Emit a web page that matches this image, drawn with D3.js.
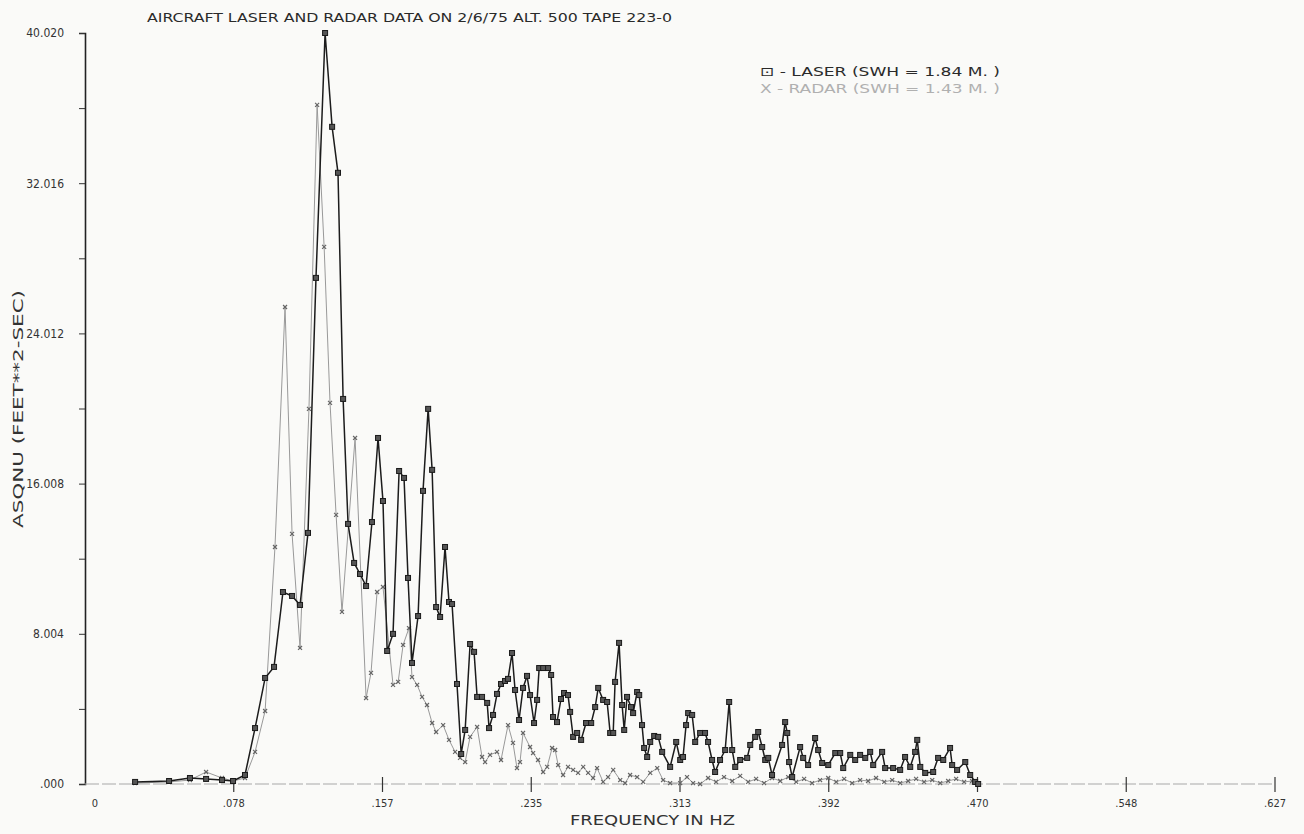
<html>
<head>
<title>Aircraft laser and radar spectra</title>
<script type="text/javascript" src="https://cdn.jsdelivr.net/npm/d3@7"></script>
<style>
  body { margin: 0; background: #fafaf8; }
  text { font-family: "DejaVu Sans Condensed", "DejaVu Sans", sans-serif; }
</style>
</head>
<body>
<script type="text/javascript">
  var width = 1304;
  var height = 834;

  // laser spectrum
  var laserFreq = [0.0264,0.0443,0.0553,0.0638,0.0722,0.0780,0.0843,0.0896,0.0949,0.0996,
    0.1043,0.1091,0.1133,0.1175,0.1217,0.1265,0.1302,0.1333,0.1360,0.1386,
    0.1418,0.1449,0.1481,0.1512,0.1544,0.1570,0.1592,0.1623,0.1655,0.1681,
    0.1702,0.1723,0.1755,0.1781,0.1808,0.1829,0.1850,0.1871,0.1897,0.1918,
    0.1934,0.1960,0.1982,0.2003,0.2029,0.2050,0.2066,0.2092,0.2119,0.2129,
    0.2150,0.2171,0.2192,0.2213,0.2229,0.2250,0.2266,0.2287,0.2308,0.2329,
    0.2345,0.2366,0.2382,0.2393,0.2414,0.2440,0.2456,0.2466,0.2487,0.2508,
    0.2524,0.2545,0.2556,0.2572,0.2593,0.2614,0.2640,0.2667,0.2688,0.2704,
    0.2730,0.2751,0.2767,0.2783,0.2793,0.2814,0.2830,0.2841,0.2856,0.2877,
    0.2888,0.2909,0.2920,0.2935,0.2946,0.2962,0.2978,0.2999,0.3020,0.3041,
    0.3083,0.3115,0.3136,0.3151,0.3167,0.3178,0.3199,0.3215,0.3241,0.3267,
    0.3283,0.3304,0.3320,0.3346,0.3373,0.3394,0.3410,0.3426,0.3452,0.3489,
    0.3505,0.3531,0.3547,0.3568,0.3584,0.3600,0.3620,0.3673,0.3689,0.3700,
    0.3710,0.3726,0.3768,0.3784,0.3810,0.3847,0.3863,0.3884,0.3916,0.3953,
    0.3979,0.3995,0.4032,0.4058,0.4084,0.4111,0.4137,0.4153,0.4200,0.4216,
    0.4258,0.4295,0.4321,0.4348,0.4374,0.4385,0.4401,0.4427,0.4469,0.4495,
    0.4522,0.4558,0.4569,0.4595,0.4638,0.4664,0.4690,0.4706];
  var laserVal = [0.11,0.16,0.32,0.27,0.21,0.16,0.48,2.98,5.65,6.24,
    10.23,10.02,9.54,13.38,26.97,40.02,35.02,32.57,20.52,13.86,
    11.78,11.19,10.55,13.96,18.44,15.08,7.09,8.00,16.68,16.31,
    10.98,6.45,8.95,15.62,19.99,16.74,9.43,8.90,12.63,9.70,
    9.59,5.33,1.60,2.88,7.46,7.04,4.64,4.64,4.32,2.98,
    3.68,4.80,5.33,5.49,5.60,6.98,5.01,3.41,5.12,5.76,
    4.74,3.25,4.48,6.18,6.18,6.18,5.81,3.57,3.30,4.53,
    4.85,4.74,3.84,2.51,2.72,2.35,3.25,3.25,4.10,5.12,
    4.48,4.37,2.72,2.72,5.44,7.52,4.21,2.88,4.64,4.10,
    3.78,4.90,4.74,3.14,1.92,1.44,2.24,2.56,2.51,1.71,
    0.91,2.24,1.28,1.44,3.14,3.78,3.68,2.24,2.72,2.72,
    2.24,1.28,0.64,1.28,1.81,4.37,1.81,0.91,1.28,1.39,
    2.08,2.51,2.77,1.97,1.28,1.39,0.48,2.08,3.30,2.72,
    1.17,0.37,1.97,1.39,1.01,2.45,1.81,1.12,1.01,1.65,
    1.65,0.85,1.55,1.28,1.55,1.39,1.71,1.01,1.71,0.85,
    0.85,0.75,1.44,0.91,1.71,2.35,0.91,0.59,0.64,1.39,
    1.28,1.92,1.01,0.75,1.17,0.48,0.11,0.00];

  // radar spectrum
  var radarFreq = [0.0264,0.0443,0.0553,0.0638,0.0722,0.0780,0.0843,0.0896,0.0949,0.1001,
    0.1054,0.1091,0.1133,0.1180,0.1223,0.1260,0.1291,0.1323,0.1354,0.1423,
    0.1481,0.1507,0.1539,0.1570,0.1623,0.1650,0.1676,0.1707,0.1723,0.1750,
    0.1776,0.1802,0.1829,0.1850,0.1887,0.1918,0.1950,0.1976,0.2003,0.2029,
    0.2066,0.2092,0.2108,0.2134,0.2171,0.2192,0.2229,0.2255,0.2276,0.2292,
    0.2308,0.2345,0.2361,0.2387,0.2414,0.2435,0.2461,0.2477,0.2493,0.2519,
    0.2545,0.2572,0.2598,0.2625,0.2651,0.2677,0.2698,0.2730,0.2756,0.2783,
    0.2820,0.2846,0.2872,0.2909,0.2941,0.2978,0.3015,0.3046,0.3083,0.3136,
    0.3172,0.3204,0.3241,0.3283,0.3325,0.3367,0.3410,0.3452,0.3494,0.3536,
    0.3578,0.3620,0.3663,0.3705,0.3747,0.3789,0.3831,0.3873,0.3916,0.3958,
    0.4000,0.4042,0.4084,0.4126,0.4168,0.4211,0.4253,0.4295,0.4337,0.4379,
    0.4421,0.4464,0.4506,0.4548,0.4590,0.4632,0.4674,0.4706];
  var radarVal = [0.05,0.11,0.21,0.64,0.32,0.16,0.32,1.71,3.89,12.63,
    25.42,13.33,7.25,19.99,36.19,28.62,20.31,14.34,9.17,18.44,
    4.58,5.92,10.23,10.50,5.28,5.44,7.41,8.31,5.70,5.28,
    4.64,4.21,3.25,2.77,3.14,2.35,1.71,1.39,1.17,2.51,
    3.04,1.44,1.17,1.55,1.71,1.28,3.14,2.19,0.85,1.17,
    2.72,1.97,1.65,1.28,0.64,0.91,1.92,1.81,1.01,0.48,
    0.91,0.75,0.59,0.91,0.59,0.32,0.85,0.11,0.37,0.75,
    0.21,0.05,0.48,0.37,0.11,0.59,0.85,0.21,0.05,0.05,
    0.37,0.05,0.00,0.32,0.11,0.37,0.16,0.43,0.11,0.27,
    0.05,0.32,0.16,0.37,0.11,0.27,0.05,0.21,0.32,0.11,
    0.27,0.05,0.21,0.16,0.32,0.11,0.21,0.05,0.16,0.27,
    0.11,0.21,0.05,0.16,0.27,0.11,0.16,0.00];

  var xTickLabels = ["0",".078",".157",".235",".313",".392",".470",".548",".627"];
  var yTickLabels = [".000","8.004","16.008","24.012","32.016","40.020"];
  var xMax = 0.627;
  var yMax = 40.02;

  var xScale = d3.scaleLinear().domain([0,xMax]).range([85,1275]);
  var yScale = d3.scaleLinear().domain([0,yMax]).range([784,33]);

  var svg = d3.select("body")
              .append("svg")
              .attr("width",width)
              .attr("height",height)
              .style("background-color","#fafaf8");

  // title
  svg.append("text")
     .attr("x",147).attr("y",22)
     .attr("textLength",525).attr("lengthAdjust","spacingAndGlyphs")
     .style("font-size","13px").style("fill","#2a2a2a")
     .text("AIRCRAFT LASER AND RADAR DATA ON 2/6/75  ALT. 500  TAPE 223-0");

  // legend
  svg.append("text")
     .attr("x",760).attr("y",76)
     .attr("textLength",240).attr("lengthAdjust","spacingAndGlyphs")
     .style("font-size","12px").style("fill","#2a2a2a")
     .text("\u22A1 - LASER (SWH =  1.84 M. )");
  svg.append("text")
     .attr("x",760).attr("y",93)
     .attr("textLength",240).attr("lengthAdjust","spacingAndGlyphs")
     .style("font-size","12px").style("fill","#b0b0b0")
     .text("X - RADAR (SWH =  1.43 M. )");

  // y axis
  var yMinor = d3.range(0,11).map(function(i){ return i*yMax/10; });
  var yAxis = d3.axisLeft(yScale)
                .tickValues(yMinor)
                .tickSize(6)
                .tickFormat(function(d,i){ return i%2==0 ? yTickLabels[i/2] : ""; });
  var gy = svg.append("g")
              .attr("transform","translate(85,0)")
              .attr("font-size",12)
              .call(yAxis);
  gy.attr("font-size",12).attr("font-family","\"DejaVu Sans Condensed\", sans-serif");
  gy.select(".domain").attr("stroke","#222").attr("stroke-width",1.6);
  gy.selectAll(".tick line").attr("stroke","#333");
  gy.selectAll(".tick text")
    .attr("x",-21)
    .attr("fill","#333");

  // x axis
  var xVals = d3.range(0,9).map(function(i){ return i*xMax/8; });
  svg.append("line")
     .attr("x1",xScale(0)).attr("x2",xScale(xMax))
     .attr("y1",yScale(0)).attr("y2",yScale(0))
     .attr("stroke","#a8a8a8").attr("stroke-width",1)
     .attr("stroke-dasharray","14,3");
  var gx = svg.append("g");
  gx.selectAll("line")
    .data(xVals.slice(1))
    .enter().append("line")
    .attr("x1",function(d){ return xScale(d); })
    .attr("x2",function(d){ return xScale(d); })
    .attr("y1",function(d,i){ return i==0 ? yScale(0) : yScale(0)-7; })
    .attr("y2",yScale(0)+8)
    .attr("stroke","#333").attr("stroke-width",1.2);
  gx.selectAll("text")
    .data(xVals)
    .enter().append("text")
    .attr("x",function(d,i){ return xScale(d) + (i==0 ? 10 : 0); })
    .attr("y",807)
    .attr("text-anchor","middle")
    .style("font-size","11px").style("fill","#333")
    .text(function(d,i){ return xTickLabels[i]; });

  // axis titles
  svg.append("text")
     .attr("x",570).attr("y",825)
     .attr("textLength",165).attr("lengthAdjust","spacingAndGlyphs")
     .style("font-size","14px").style("fill","#333")
     .text("FREQUENCY IN HZ");
  svg.append("text")
     .attr("transform","translate(23,528) rotate(-90)")
     .attr("textLength",238).attr("lengthAdjust","spacingAndGlyphs")
     .style("font-size","14px").style("fill","#333")
     .text("ASQNU (FEET**2-SEC)");

  var radarPts = radarFreq.map(function(f,i){ return [f, radarVal[i]]; });
  var laserPts = laserFreq.map(function(f,i){ return [f, laserVal[i]]; });
  var line = d3.line()
               .x(function(d){ return xScale(d[0]); })
               .y(function(d){ return yScale(d[1]); });

  // radar line + x markers
  svg.append("path")
     .datum(radarPts)
     .attr("d",line)
     .attr("fill","none")
     .attr("stroke","#999")
     .attr("stroke-width",1);
  svg.append("g").selectAll("path")
     .data(radarPts)
     .enter().append("path")
     .attr("transform",function(d){ return "translate(" + xScale(d[0]) + "," + yScale(d[1]) + ")"; })
     .attr("d",d3.symbol(d3.symbolX).size(12))
     .attr("fill","none")
     .attr("stroke","#666")
     .attr("stroke-width",1.2);

  // laser line + square markers
  svg.append("path")
     .datum(laserPts)
     .attr("d",line)
     .attr("fill","none")
     .attr("stroke","#1c1c1c")
     .attr("stroke-width",1.5);
  svg.append("g").selectAll("rect")
     .data(laserPts)
     .enter().append("rect")
     .attr("x",function(d){ return xScale(d[0])-2.5; })
     .attr("y",function(d){ return yScale(d[1])-2.5; })
     .attr("width",5)
     .attr("height",5)
     .attr("fill","#555")
     .attr("stroke","#1a1a1a")
     .attr("stroke-width",1);
</script>
</body>
</html>
